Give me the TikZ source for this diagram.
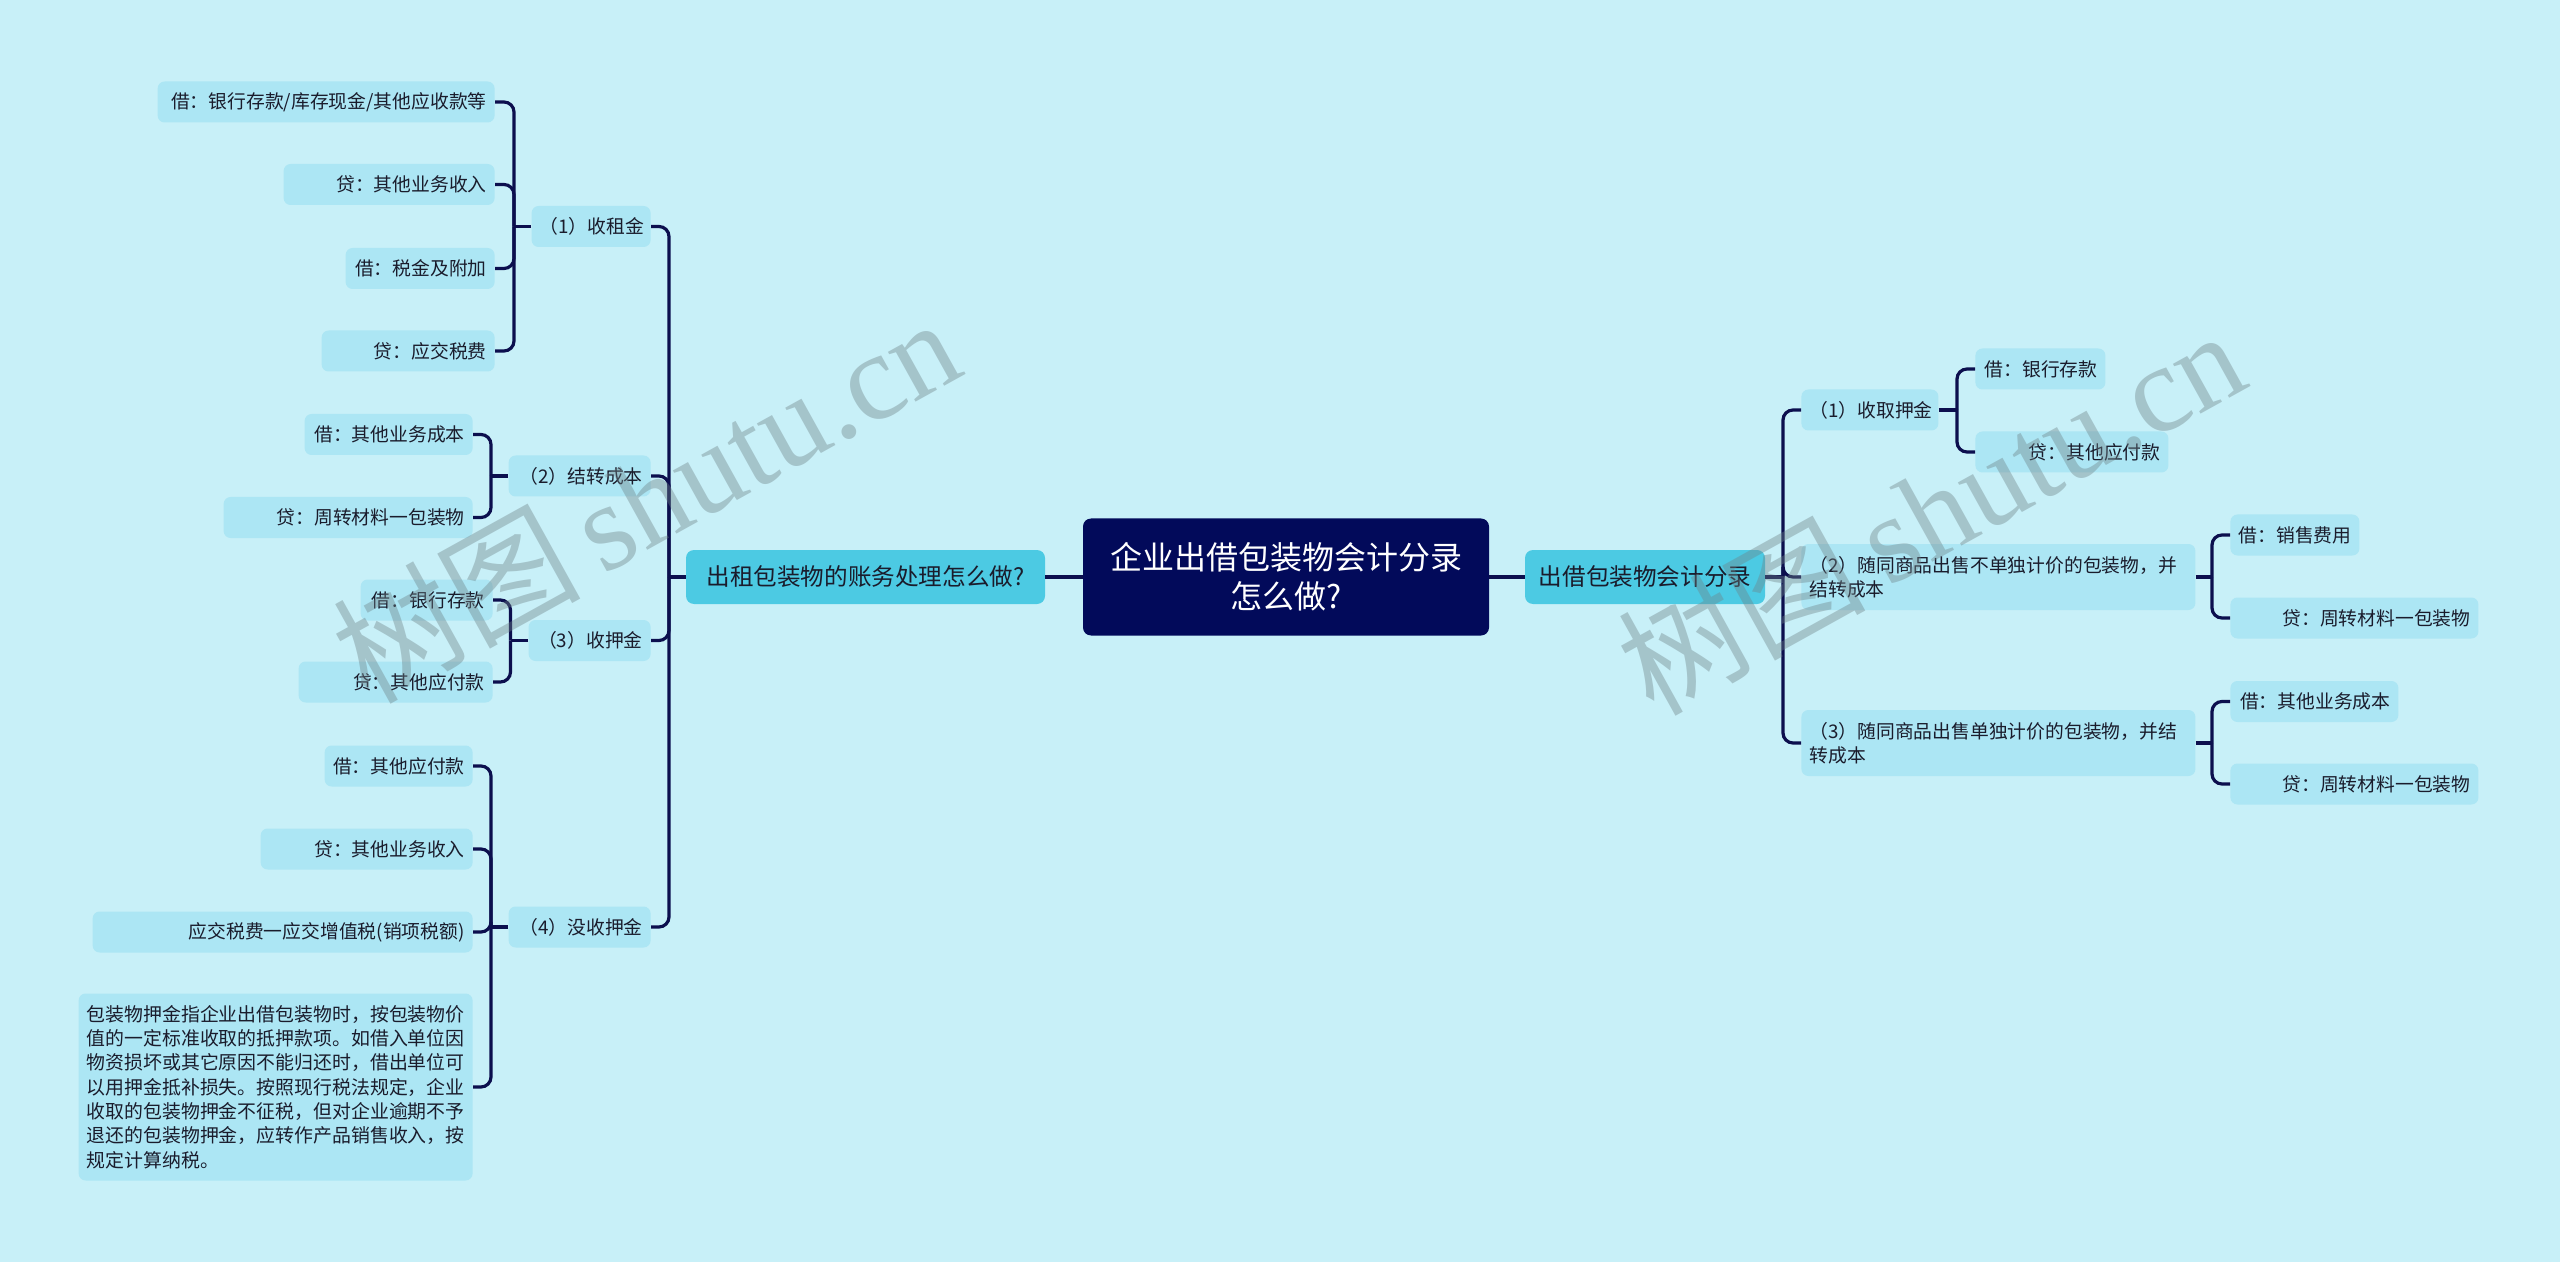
\documentclass[tikz,border=0pt]{standalone}
\usepackage{fontspec}
\setmainfont{Noto Sans CJK SC}
\newfontfamily\wmserif{Liberation Serif}
\definecolor{bg}{HTML}{C8F0F8}
\definecolor{leaffill}{HTML}{ACE6F4}
\definecolor{midfill}{HTML}{4CCAE3}
\definecolor{rootfill}{HTML}{020A5A}
\definecolor{linec}{HTML}{0C0F4E}
\definecolor{txt}{HTML}{1A1C2C}
\definecolor{wm}{HTML}{6E8287}
\begin{document}
\begin{tikzpicture}[x=0.5pt,y=-0.5pt,
 box/.style={rounded corners=3.5pt, fill=leaffill, inner ysep=0pt, inner xsep=4pt, minimum height=20.5pt, text=txt, font=\fontsize{9.4pt}{12pt}\selectfont},
 rbox/.style={box, align=right},
 lbox/.style={box, align=left},
 mid/.style={rounded corners=4pt, fill=midfill, inner sep=0pt, minimum height=27pt, text=txt, font=\fontsize{11.8pt}{14pt}\selectfont},
 rootbox/.style={rounded corners=4pt, fill=rootfill, text=white, inner sep=0pt, minimum width=203pt, minimum height=58.5pt, align=center, font=\fontsize{16pt}{19.5pt}\selectfont},
 conn/.style={draw=linec, line width=1.6pt, rounded corners=5pt},
 wmark/.style={text=wm, text opacity=0.4, rotate=29, inner sep=0pt, font=\fontsize{62pt}{62pt}\selectfont}]
\fill[bg] (0,0) rectangle (2560,1262);
\useasboundingbox (0,0) rectangle (2560,1262);

% centre and first level
\node[rootbox] (root) at (1286,577) {企业出借包装物会计分录\\怎么做?};
\node[mid, minimum width=179.5pt] (L0) at (865.5,577) {出租包装物的账务处理怎么做?};
\node[mid, minimum width=120pt] (R0) at (1645,577) {出借包装物会计分录};

% left second level
\node[rbox, anchor=east, text width=51.5pt] (A1) at (651,226.5) {（1）收租金};
\node[rbox, anchor=east, text width=63pt] (A2) at (651,476) {（2）结转成本};
\node[rbox, anchor=east, text width=53pt] (A3) at (651,640.5) {（3）收押金};
\node[rbox, anchor=east, text width=63pt] (A4) at (651,927) {（4）没收押金};

% left leaves
\node[rbox, anchor=east, text width=160.5pt] (L1a) at (495,102) {借：银行存款/库存现金/其他应收款等};
\node[rbox, anchor=east, text width=97.5pt] (L1b) at (495,184.5) {贷：其他业务收入};
\node[rbox, anchor=east, text width=66.5pt] (L1c) at (495,268.5) {借：税金及附加};
\node[rbox, anchor=east, text width=78.5pt] (L1d) at (495,351) {贷：应交税费};
\node[rbox, anchor=east, text width=76pt] (L2a) at (473,434.5) {借：其他业务成本};
\node[rbox, anchor=east, text width=116.5pt] (L2b) at (473,517.5) {贷：周转材料一包装物};
\node[rbox, anchor=east, text width=58pt] (L3a) at (493,600) {借：银行存款};
\node[rbox, anchor=east, text width=89pt] (L3b) at (493,682) {贷：其他应付款};
\node[rbox, anchor=east, text width=66pt] (L4a) at (473,766) {借：其他应付款};
\node[rbox, anchor=east, text width=98pt] (L4b) at (473,849) {贷：其他业务收入};
\node[rbox, anchor=east, text width=182pt] (L4c) at (473,932) {应交税费一应交增值税(销项税额)};
\node[lbox, anchor=east, minimum width=196.5pt, minimum height=93.5pt, font=\fontsize{9.45pt}{12.15pt}\selectfont] (L4d) at (473,1087) {包装物押金指企业出借包装物时，按包装物价\\值的一定标准收取的抵押款项。如借入单位因\\物资损坏或其它原因不能归还时，借出单位可\\以用押金抵补损失。按照现行税法规定，企业\\收取的包装物押金不征税，但对企业逾期不予\\退还的包装物押金，应转作产品销售收入，按\\规定计算纳税。};

% right second level
\node[rbox, anchor=west, text width=60.5pt] (B1) at (1801,410) {（1）收取押金};
\node[lbox, anchor=west, text width=189pt, minimum height=33pt] (B2) at (1801,577) {（2）随同商品出售不单独计价的包装物，并\\结转成本};
\node[lbox, anchor=west, text width=189pt, minimum height=33pt] (B3) at (1801,743) {（3）随同商品出售单独计价的包装物，并结\\转成本};

% right leaves
\node[rbox, anchor=west, text width=57pt] (B1a) at (1975,369) {借：银行存款};
\node[rbox, anchor=west, text width=88.5pt] (B1b) at (1975,452) {贷：其他应付款};
\node[rbox, anchor=west, text width=56.5pt] (B2a) at (2230,535) {借：销售费用};
\node[rbox, anchor=west, text width=116pt] (B2b) at (2230,618) {贷：周转材料一包装物};
\node[rbox, anchor=west, text width=76pt] (B3a) at (2230,701.5) {借：其他业务成本};
\node[rbox, anchor=west, text width=116pt] (B3b) at (2230,784) {贷：周转材料一包装物};

% junctions
\coordinate (jL) at (669,577);
\coordinate (jA1) at (514,226.5);
\coordinate (jA2) at (491,476);
\coordinate (jA3) at (510.5,640.5);
\coordinate (jA4) at (491,927);
\coordinate (jR) at (1783,577);
\coordinate (jB1) at (1957,410);
\coordinate (jB2) at (2212,577);
\coordinate (jB3) at (2212,743);

% connectors
\draw[conn] (root.west) -- (L0.east);
\draw[conn] (root.east) -- (R0.west);
\draw[conn] (L0.west) -- (jL);
\foreach \c in {A1,A2,A3,A4} \draw[conn] (jL) |- (\c.east);
\draw[conn] (A1.west) -- (jA1);
\foreach \c in {L1a,L1b,L1c,L1d} \draw[conn] (jA1) |- (\c.east);
\draw[conn] (A2.west) -- (jA2);
\foreach \c in {L2a,L2b} \draw[conn] (jA2) |- (\c.east);
\draw[conn] (A3.west) -- (jA3);
\foreach \c in {L3a,L3b} \draw[conn] (jA3) |- (\c.east);
\draw[conn] (A4.west) -- (jA4);
\foreach \c in {L4a,L4b,L4c,L4d} \draw[conn] (jA4) |- (\c.east);
\draw[conn] (R0.east) -- (jR);
\foreach \c in {B1,B2,B3} \draw[conn] (jR) |- (\c.west);
\draw[conn] (B1.east) -- (jB1);
\foreach \c in {B1a,B1b} \draw[conn] (jB1) |- (\c.west);
\draw[conn] (B2.east) -- (jB2);
\foreach \c in {B2a,B2b} \draw[conn] (jB2) |- (\c.west);
\draw[conn] (B3.east) -- (jB3);
\foreach \c in {B3a,B3b} \draw[conn] (jB3) |- (\c.west);

% watermarks
\node[wmark] (wm1) at (645,498) {树图\,{\wmserif shutu.cn}};
\node[wmark] (wm2) at (1930,510) {树图\,{\wmserif shutu.cn}};
\end{tikzpicture}
\end{document}
